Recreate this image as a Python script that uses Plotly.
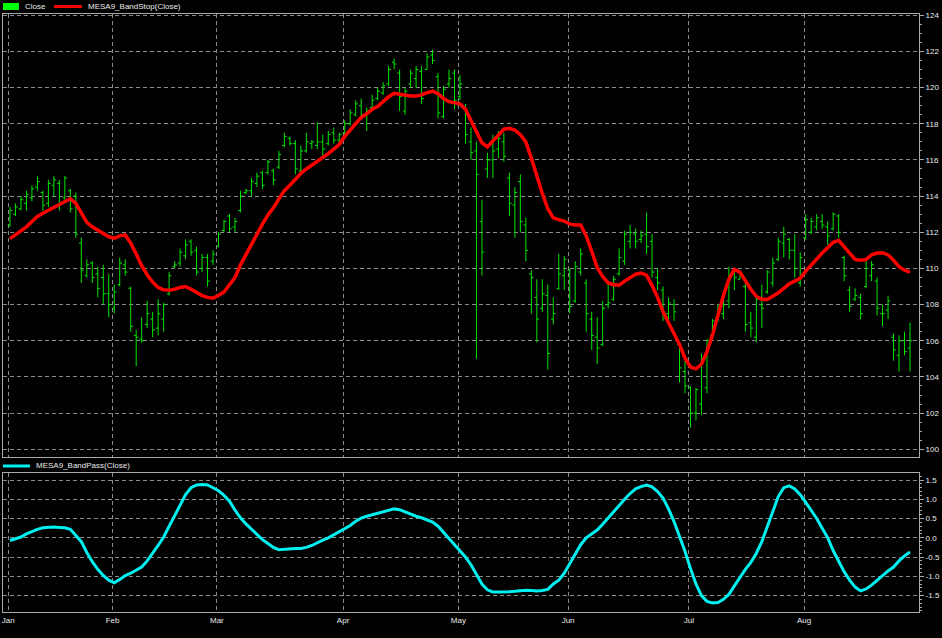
import plotly.graph_objects as go

# ---------------- data ----------------
months = ["Jan", "Feb", "Mar", "Apr", "May", "Jun", "Jul", "Aug"]
month_start = [0, 19, 38, 61, 82, 102, 124, 145]

high = [113.4, 113.6, 114.0, 114.3, 114.6, 115.1, 114.3, 114.9, 115.1, 114.9,
        115.1, 114.4, 114.2, 111.7, 110.5, 110.4, 110.1, 110.2, 109.7, 109.1,
        110.6, 110.5, 109.0, 106.6, 107.3, 108.2, 107.6, 108.3, 108.1, 109.8,
        110.4, 111.1, 111.6, 111.6, 111.2, 110.8, 110.8, 111.0, 112.0, 112.7,
        113.0, 112.8, 114.3, 114.4, 115.0, 115.3, 115.4, 116.0, 115.5, 116.5,
        117.5, 117.3, 117.1, 116.8, 117.5, 117.1, 118.1, 117.4, 117.6, 117.8,
        117.5, 118.2, 118.8, 119.3, 119.4, 118.9, 119.6, 120.0, 120.3, 121.2,
        121.6, 121.0, 120.0, 121.0, 121.2, 121.2, 121.9, 122.1, 120.8, 120.1,
        121.0, 121.0, 120.7, 119.1, 117.8, 117.0, 113.8, 116.4, 117.4, 117.6,
        117.5, 115.3, 114.5, 115.2, 112.8, 109.9, 109.4, 109.4, 109.1, 108.4,
        110.8, 110.7, 110.0, 110.4, 111.1, 109.4, 107.6, 107.3, 108.2, 109.2,
        109.6, 111.1, 112.1, 112.4, 112.2, 112.1, 113.1, 111.9, 110.0, 109.0,
        108.4, 108.3, 105.9, 104.9, 103.5, 103.4, 105.3, 106.1, 107.2, 108.0,
        108.3, 110.1, 110.0, 109.6, 109.2, 107.6, 108.5, 109.1, 109.9, 110.6,
        111.7, 112.3, 111.7, 111.9, 110.9, 113.0, 112.8, 113.0, 113.0, 112.6,
        113.1, 113.0, 110.7, 109.0, 108.9, 108.6, 110.4, 110.4, 109.5, 108.0,
        108.5, 106.4, 106.3, 106.5, 107.0]

low = [112.3, 112.9, 113.2, 113.2, 113.7, 114.3, 113.2, 113.4, 114.0, 113.2,
       113.8, 113.1, 111.7, 109.2, 109.5, 109.2, 108.4, 108.0, 107.3, 107.5,
       109.0, 109.6, 106.5, 104.6, 105.9, 106.7, 106.2, 106.3, 106.5, 108.5,
       110.0, 110.1, 110.5, 110.7, 109.6, 109.8, 109.0, 110.2, 111.2, 112.0,
       112.0, 112.0, 113.1, 114.1, 114.0, 114.5, 114.4, 115.2, 114.6, 115.5,
       116.7, 116.8, 115.2, 115.2, 116.4, 116.6, 116.6, 116.2, 116.8, 116.9,
       116.8, 117.4, 117.9, 118.4, 118.2, 117.6, 118.8, 119.3, 119.6, 120.1,
       121.0, 118.7, 118.5, 120.0, 120.0, 119.1, 121.0, 121.3, 118.3, 118.3,
       120.0, 118.8, 119.3, 116.9, 116.0, 105.0, 109.6, 115.0, 115.0, 116.1,
       115.9, 112.9, 111.7, 112.0, 110.4, 107.5, 105.9, 107.6, 104.4, 106.9,
       108.8, 108.8, 107.5, 108.1, 109.6, 106.5, 105.5, 104.7, 105.7, 107.8,
       108.2, 109.6, 110.2, 111.1, 111.1, 111.4, 110.8, 109.5, 108.8, 107.1,
       107.1, 107.1, 103.7, 103.1, 101.2, 101.6, 101.9, 103.1, 106.2, 107.1,
       107.2, 107.8, 108.8, 109.4, 106.5, 106.2, 105.9, 106.7, 108.6, 109.0,
       110.4, 110.6, 110.5, 109.5, 109.0, 111.6, 111.9, 112.1, 112.2, 111.3,
       112.1, 111.7, 109.3, 107.6, 108.2, 107.2, 108.9, 109.3, 107.4, 106.8,
       107.2, 104.9, 104.3, 105.2, 104.3]

open_ = [112.4, 113.0, 113.3, 113.6, 113.9, 114.5, 114.2, 113.6, 114.6, 114.7,
         113.9, 114.3, 114.0, 111.4, 109.6, 110.3, 109.7, 109.5, 108.6, 107.8,
         109.1, 110.2, 108.9, 106.3, 106.1, 106.9, 107.2, 106.7, 107.2, 108.6,
         110.1, 110.3, 110.7, 111.5, 111.0, 110.0, 110.6, 110.4, 111.2, 112.1,
         112.9, 112.3, 113.2, 114.2, 114.3, 114.7, 115.3, 115.3, 115.4, 115.6,
         116.8, 117.2, 116.9, 115.4, 116.5, 116.9, 116.8, 117.0, 116.9, 117.5,
         117.1, 117.5, 118.0, 118.5, 119.0, 118.5, 118.9, 119.4, 119.7, 120.2,
         121.4, 120.8, 118.7, 120.2, 120.5, 120.9, 121.0, 121.8, 120.6, 118.4,
         120.2, 120.8, 119.5, 118.9, 117.0, 116.5, 112.6, 115.5, 116.0, 116.6,
         117.0, 115.0, 113.5, 114.8, 112.4, 109.7, 108.4, 107.8, 108.5, 107.2,
         108.9, 109.6, 109.9, 108.2, 109.8, 109.2, 107.2, 106.2, 105.8, 108.0,
         108.3, 109.7, 110.4, 111.5, 111.9, 111.6, 111.9, 111.5, 109.5, 108.8,
         107.5, 108.0, 105.8, 104.3, 103.4, 102.0, 102.5, 103.4, 106.3, 107.3,
         107.5, 108.2, 109.8, 109.4, 109.0, 107.0, 106.2, 108.0, 108.7, 109.2,
         110.5, 111.4, 111.6, 111.0, 109.2, 111.7, 112.0, 112.3, 112.6, 112.3,
         112.2, 112.9, 110.6, 108.8, 108.3, 108.4, 109.0, 109.6, 109.3, 107.5,
         107.7, 106.2, 105.2, 106.0, 105.6]

close = [113.2, 113.4, 113.8, 114.1, 114.4, 114.8, 113.5, 114.7, 114.9, 113.6,
         115.0, 113.3, 111.9, 109.9, 110.2, 109.5, 108.9, 108.6, 108.0, 108.7,
         110.3, 109.8, 106.8, 106.2, 106.0, 107.5, 106.6, 107.5, 108.0, 109.6,
         110.2, 110.9, 111.3, 110.9, 109.8, 110.6, 109.3, 110.8, 111.9, 112.6,
         112.2, 112.6, 114.0, 114.3, 114.8, 115.1, 114.6, 115.9, 114.9, 116.3,
         117.3, 116.9, 115.5, 116.5, 117.0, 117.0, 117.0, 116.6, 117.4, 117.1,
         117.4, 118.0, 118.6, 119.1, 118.5, 118.7, 119.3, 119.8, 120.1, 121.0,
         121.3, 119.5, 119.8, 120.8, 121.0, 119.4, 121.7, 121.5, 118.6, 119.9,
         120.5, 119.3, 120.2, 117.4, 116.4, 115.2, 110.9, 116.0, 116.5, 117.2,
         116.2, 113.6, 114.2, 112.6, 111.0, 109.5, 107.2, 108.6, 105.3, 107.5,
         109.7, 110.5, 107.9, 110.1, 110.8, 107.5, 106.3, 105.6, 107.8, 108.1,
         109.4, 110.6, 111.9, 112.0, 111.5, 111.8, 111.2, 109.8, 109.2, 107.6,
         108.1, 107.6, 104.5, 103.5, 102.0, 103.3, 105.0, 106.0, 107.1, 107.8,
         108.0, 109.6, 109.5, 109.6, 106.9, 106.7, 108.3, 107.8, 109.8, 110.3,
         111.5, 111.9, 111.0, 110.0, 110.6, 112.7, 112.6, 112.8, 112.4, 111.8,
         113.0, 112.0, 109.6, 107.9, 108.5, 107.5, 110.0, 110.2, 107.8, 107.5,
         108.2, 105.5, 106.0, 105.4, 106.0]

bandstop = [111.65, 111.85, 112.05, 112.3, 112.6, 112.87, 113.05, 113.2, 113.35, 113.5,
            113.65, 113.85, 113.6, 113.05, 112.55, 112.3, 112.1, 111.95, 111.75, 111.67,
            111.8, 111.85, 111.4, 110.8, 110.15, 109.65, 109.25, 108.95, 108.82, 108.8,
            108.85, 108.95, 109.0, 108.85, 108.65, 108.5, 108.4, 108.36, 108.5, 108.7,
            109.1, 109.5, 110.2, 110.75, 111.35, 111.95, 112.45, 112.95, 113.35, 113.85,
            114.3, 114.6, 114.95, 115.25, 115.5, 115.7, 115.9, 116.1, 116.35, 116.6,
            116.85, 117.3, 117.65, 118.05, 118.35, 118.55, 118.8, 118.95, 119.2, 119.5,
            119.68, 119.62, 119.55, 119.53, 119.53, 119.6, 119.72, 119.8, 119.66, 119.4,
            119.22, 119.16, 119.1, 118.8, 118.2, 117.6, 116.95, 116.72, 117.05, 117.4,
            117.7, 117.75, 117.65, 117.4, 117.0, 116.1, 115.1, 114.15, 113.3, 112.8,
            112.7, 112.62, 112.45, 112.4, 112.4, 111.8, 110.95, 110.05, 109.55, 109.2,
            109.1, 109.07, 109.3, 109.5, 109.68, 109.75, 109.62, 109.05, 108.4, 107.6,
            107.0, 106.5, 105.8, 105.05, 104.55, 104.45, 104.7, 105.4, 106.3, 107.4,
            108.5, 109.4, 109.95, 109.8, 109.3, 108.85, 108.45, 108.3, 108.28, 108.45,
            108.65, 108.9, 109.15, 109.3, 109.45, 109.85, 110.2, 110.5, 110.85, 111.15,
            111.45, 111.55, 111.2, 110.8, 110.5, 110.45, 110.5, 110.75, 110.85, 110.87,
            110.75, 110.45, 110.1, 109.9, 109.8]

bandpass = [-0.07, -0.03, 0.02, 0.1, 0.17, 0.22, 0.26, 0.27, 0.28, 0.27,
            0.26, 0.22, 0.06, -0.1, -0.38, -0.62, -0.82, -0.98, -1.1, -1.17,
            -1.08, -0.98, -0.92, -0.85, -0.76, -0.6, -0.41, -0.2, 0.02, 0.3,
            0.6, 0.88, 1.12, 1.3, 1.37, 1.38, 1.37, 1.3, 1.22, 1.1,
            0.95, 0.72, 0.52, 0.36, 0.22, 0.08, -0.05, -0.15, -0.25, -0.31,
            -0.3, -0.28, -0.28, -0.28, -0.25, -0.2, -0.12, -0.06, 0.0, 0.08,
            0.17, 0.25, 0.32, 0.43, 0.51, 0.56, 0.6, 0.63, 0.66, 0.71,
            0.75, 0.73, 0.67, 0.61, 0.56, 0.52, 0.47, 0.41, 0.3, 0.15,
            -0.02, -0.18, -0.33, -0.5, -0.7, -0.95, -1.2, -1.35, -1.41, -1.41,
            -1.41, -1.4, -1.39, -1.37, -1.36, -1.37, -1.38, -1.37, -1.34, -1.2,
            -1.1, -0.92, -0.68, -0.42, -0.18, 0.0, 0.1, 0.2, 0.35, 0.52,
            0.68, 0.84, 1.0, 1.15, 1.27, 1.33, 1.37, 1.32, 1.2, 1.03,
            0.75, 0.42, 0.05, -0.35, -0.8, -1.2, -1.5, -1.65, -1.69, -1.68,
            -1.6, -1.47, -1.25, -1.02, -0.82, -0.64, -0.4, -0.1, 0.3, 0.7,
            1.07, 1.3, 1.35, 1.27, 1.12, 0.92, 0.72, 0.5, 0.25, 0.0,
            -0.33, -0.62, -0.88, -1.1, -1.28, -1.38, -1.33, -1.23, -1.1, -0.97,
            -0.86, -0.76, -0.6, -0.47, -0.37]

top_ticks = [100, 102, 104, 106, 108, 110, 112, 114, 116, 118, 120, 122, 124]
bot_ticks = [-1.5, -1.0, -0.5, 0.0, 0.5, 1.0, 1.5]
bot_ticktext = ["-1.5", "-1.0", "-0.5", "0.0", "0.5", "1.0", "1.5"]

idx = list(range(len(close)))

# ---------------- layout geometry ----------------
W, H = 942, 638
L, R, T, B = 2, 22, 14, 26
PW, PH = W - L - R, H - T - B


def fx(px):
    return (px - L) / PW


def fy(py):
    return (H - B - py) / PH


FONT = "Liberation Sans, Arial, sans-serif"
GRID = "#8a8a8a"
FRAME = "#a8a8a8"
TXT = "#ebebeb"
GREEN = "#00e600"

fig = go.Figure()

fig.add_trace(go.Ohlc(
    x=idx, open=open_, high=high, low=low, close=close,
    increasing=dict(line=dict(color=GREEN, width=1)),
    decreasing=dict(line=dict(color=GREEN, width=1)),
    tickwidth=0.42, xaxis="x", yaxis="y", showlegend=False, name="Close"))

fig.add_trace(go.Scatter(
    x=idx, y=bandstop, mode="lines", line=dict(color="#ff0000", width=3.5),
    xaxis="x", yaxis="y", showlegend=False, name="MESA9_BandStop(Close)"))

fig.add_trace(go.Scatter(
    x=idx, y=bandpass, mode="lines", line=dict(color="#00f0f0", width=3),
    xaxis="x2", yaxis="y2", showlegend=False, name="MESA9_BandPass(Close)"))

xr = [-1.27, 165.64]
tickpos = [m - 0.3 for m in month_start]

common_x = dict(
    range=xr, tickmode="array", tickvals=tickpos, ticktext=months,
    showgrid=True, gridcolor=GRID, griddash="4px,3px", gridwidth=1,
    showline=True, mirror=True, linecolor=FRAME, linewidth=1,
    zeroline=False, ticks="", tickfont=dict(family=FONT, size=8, color=TXT),
    fixedrange=True)

fig.update_layout(
    width=W, height=H,
    margin=dict(l=L, r=R, t=T, b=B, pad=0),
    paper_bgcolor="#000000", plot_bgcolor="#000000",
    font=dict(family=FONT, size=8, color=TXT),
    xaxis=dict(common_x, anchor="y", showticklabels=False,
               rangeslider=dict(visible=False)),
    xaxis2=dict(common_x, anchor="y2", showticklabels=True, matches="x"),
    yaxis=dict(domain=[fy(456.7), 1.0], range=[99.59, 124.07], side="right",
               tickmode="array", tickvals=top_ticks,
               ticktext=[str(v) for v in top_ticks],
               showgrid=True, gridcolor=GRID, griddash="4px,3px",
               showline=True, mirror=True, linecolor=FRAME, zeroline=False,
               ticks="outside", ticklen=4, tickcolor=FRAME,
               minor=dict(tickmode="linear", tick0=100, dtick=0.5,
                          ticks="outside", ticklen=2, tickcolor=FRAME,
                          showgrid=False),
               tickfont=dict(family=FONT, size=8, color=TXT), fixedrange=True),
    yaxis2=dict(domain=[0.0, fy(473.3)], range=[-1.927, 1.674], side="right",
                tickmode="array", tickvals=bot_ticks, ticktext=bot_ticktext,
                showgrid=True, gridcolor=GRID, griddash="4px,3px",
                showline=True, mirror=True, linecolor=FRAME, zeroline=False,
                ticks="outside", ticklen=4, tickcolor=FRAME,
                minor=dict(tickmode="linear", tick0=0, dtick=0.1,
                           ticks="outside", ticklen=2, tickcolor=FRAME,
                           showgrid=False),
                tickfont=dict(family=FONT, size=8, color=TXT), fixedrange=True),
    showlegend=False,
)

# legend swatches (drawn as shapes) and legend texts
shapes = [
    dict(type="rect", xref="paper", yref="paper",
         x0=fx(2), x1=fx(18), y0=fy(10), y1=fy(3),
         fillcolor="#00ff00", line=dict(width=0)),
    dict(type="line", xref="paper", yref="paper",
         x0=fx(53), x1=fx(81), y0=fy(6.5), y1=fy(6.5),
         line=dict(color="#ff0000", width=3)),
    dict(type="line", xref="paper", yref="paper",
         x0=fx(2), x1=fx(29), y0=fy(466), y1=fy(466),
         line=dict(color="#00f0f0", width=3)),
]
annos = [
    dict(text="Close", x=fx(22), y=fy(7), xanchor="left", yanchor="middle"),
    dict(text="MESA9_BandStop(Close)", x=fx(85), y=fy(7),
         xanchor="left", yanchor="middle"),
    dict(text="MESA9_BandPass(Close)", x=fx(33), y=fy(466),
         xanchor="left", yanchor="middle"),
]
for a in annos:
    a.update(xref="paper", yref="paper", showarrow=False,
             font=dict(family=FONT, size=8, color=TXT))

fig.update_layout(shapes=shapes, annotations=annos)

fig.write_html(
    "out.html",
    config={"displayModeBar": False},
    post_script="document.body.style.margin='0';"
                "document.body.style.overflow='hidden';")
